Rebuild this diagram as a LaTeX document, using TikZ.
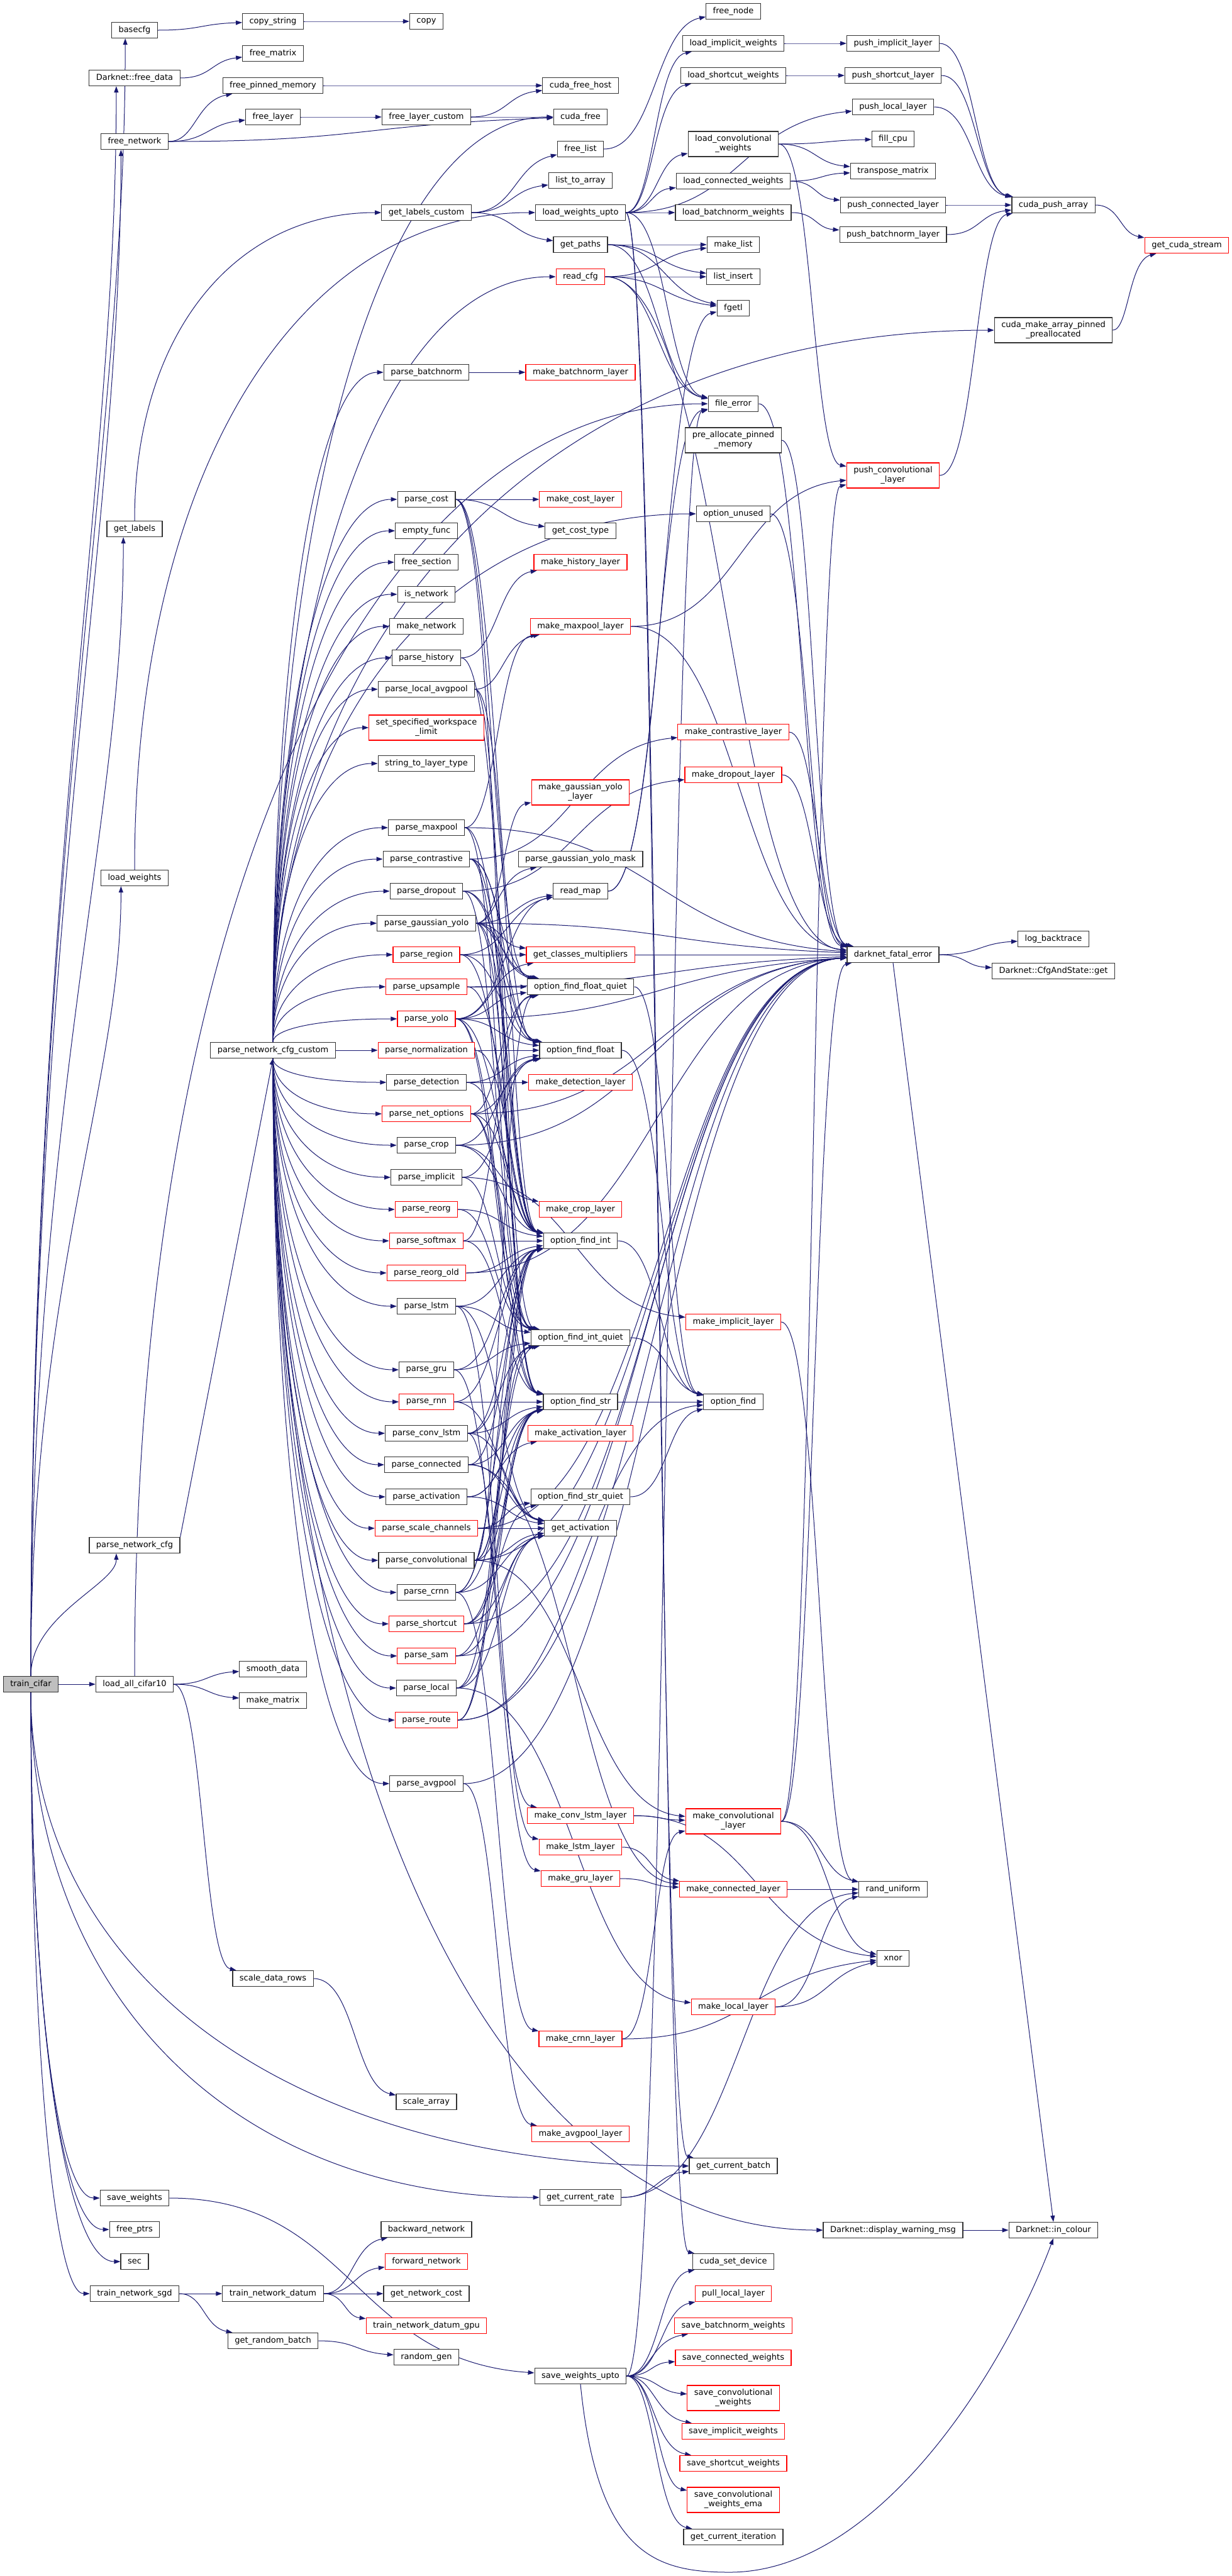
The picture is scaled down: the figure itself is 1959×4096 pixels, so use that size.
\documentclass[tikz,border=0pt]{standalone}
\usepackage{fontspec}
\setmainfont{DejaVu Sans}
\usetikzlibrary{arrows.meta,calc}
\pgfdeclarelayer{background}
\pgfsetlayers{background,main}
\definecolor{edgeblue}{HTML}{191970}
\tikzstyle{fn}=[draw=black!80,fill=white,line width=1.2pt,font=\fontsize{13}{15}\selectfont,minimum height=25pt,inner xsep=11pt,inner ysep=6pt,align=center]
\tikzstyle{fnred}=[fn,draw=red]
\tikzstyle{rootfn}=[fn,fill=black!25]
\tikzstyle{calledge}=[draw=edgeblue,line width=1pt,-{Triangle[length=10pt,width=7pt]}]
% curved call from east side, arriving at the target's left part
\newcommand{\callarc}[2]{\draw[calledge] let \p1=(#1.east), \p2=(#2.center), \p3=(#2.west), \n1={0.5*(\x3-\x1)}, \n2={max(-25,min(25,0.3*(\y1-\y2)))} in (\p1) .. controls (\x1+\n1,\y1) and (\x3-\n1,\y2+\n2) .. (#2);}
% fans leaving a node from its top or bottom
\newcommand{\fanup}[2]{\draw[calledge] let \p1=(#1.north), \p2=(#2.west) in (\p1) .. controls (\x1,{\y1+0.6*(\y2-(\y1))}) and ({\x1+0.4*(\x2-\x1)},\y2) .. (\p2);}
\newcommand{\fandown}[2]{\draw[calledge] let \p1=(#1.south), \p2=(#2.west) in (\p1) .. controls (\x1,{\y1+0.6*(\y2-(\y1))}) and ({\x1+0.4*(\x2-\x1)},\y2) .. (\p2);}
\newcommand{\fanbelow}[2]{\draw[calledge] let \p1=(#1.north), \p2=($(#2.south west)!0.3!(#2.south east)$) in (\p1) .. controls (\x1,{\y1+0.5*(\y2-(\y1))}) and (\x2,{\y2-0.25*(\y2-(\y1))}) .. (\p2);}

\begin{document}
\begin{tikzpicture}[x=1pt,y=-1pt]
\useasboundingbox (0,0) rectangle (1959,4096);

   \def\ca{49}
   \def\cb{214}
   \def\cc{434}
   \def\cd{678}
   \def\ce{923}
   \def\cf{1166}
   \def\cg{1420}
   \def\ch{1675}
   \def\ci{1887}

%column 1
   \node[rootfn] (tc) at (\ca,2678) {train\_cifar};

%column 2
    \foreach \pos/\name/\label in {{(\cb,48)/basecfg/basecfg}, {(\cb,124)/freedata/Darknet::free\_data}, {(\cb,225)/freenet/free\_network}, {(\cb,841)/getlabels/get\_labels}, {(\cb,1396)/loadw/load\_weights}, {(\cb,2457)/pnc/parse\_network\_cfg}, {(\cb,2678)/loadcifar/load\_all\_cifar10}, {(\cb,3495)/savew/save\_weights}, {(\cb,3545)/freeptrs/free\_ptrs}, {(\cb,3596)/sec/sec}, {(\cb,3647)/tnsgd/train\_network\_sgd}}
        \node[fn] (\name) at \pos {\label};

%column 3
    \foreach \pos/\name/\label in {{(\cc,34)/copystr/copy\_string}, {(\cc,85)/freematrix/free\_matrix}, {(\cc,136)/freepinned/free\_pinned\_memory}, {(\cc,186)/freelayer/free\_layer}, {(\cc,1670)/pncc/parse\_network\_cfg\_custom}, {(\cc,2654)/smooth/smooth\_data}, {(\cc,2704)/makematrix/make\_matrix}, {(\cc,3146)/scalerows/scale\_data\_rows}, {(\cc,3647)/tndatum/train\_network\_datum}, {(\cc,3722)/randbatch/get\_random\_batch}}
        \node[fn] (\name) at \pos {\label};

%column 4
    \foreach \pos/\name/\label in {{(\cd,34)/copy/copy}, {(\cd,186)/freelayercustom/free\_layer\_custom}, {(\cd,338)/getlabelscustom/get\_labels\_custom}, {(\cd,592)/pbatchnorm/parse\_batchnorm}, {(\cd,794)/pcost/parse\_cost}, {(\cd,844)/emptyfunc/empty\_func}, {(\cd,894)/freesection/free\_section}, {(\cd,945)/isnetwork/is\_network}, {(\cd,996)/makenetwork/make\_network}, {(\cd,1046)/phistory/parse\_history}, {(\cd,1096)/plocalavg/parse\_local\_avgpool}, {(\cd,1214)/strtype/string\_to\_layer\_type}, {(\cd,1316)/pmaxpool/parse\_maxpool}, {(\cd,1366)/pcontrastive/parse\_contrastive}, {(\cd,1417)/pdropout/parse\_dropout}, {(\cd,1468)/pgyolo/parse\_gaussian\_yolo}, {(\cd,1721)/pdetection/parse\_detection}, {(\cd,1821)/pcrop/parse\_crop}, {(\cd,1872)/pimplicit/parse\_implicit}, {(\cd,2077)/plstm/parse\_lstm}, {(\cd,2178)/pgru/parse\_gru}, {(\cd,2279)/pconvlstm/parse\_conv\_lstm}, {(\cd,2329)/pconnected/parse\_connected}, {(\cd,2380)/pactivation/parse\_activation}, {(\cd,2481)/pconv/parse\_convolutional}, {(\cd,2532)/pcrnn/parse\_crnn}, {(\cd,2684)/plocal/parse\_local}, {(\cd,2836)/pavgpool/parse\_avgpool}, {(\cd,3342)/scalearray/scale\_array}, {(\cd,3545)/backward/backward\_network}, {(\cd,3647)/netcost/get\_network\_cost}, {(\cd,3748)/randomgen/random\_gen}}
        \node[fn] (\name) at \pos {\label};
    \foreach \pos/\name/\label in {{(\cd,1157)/setws/{set\_specified\_workspace\\\_limit}}, {(\cd,1518)/pregion/parse\_region}, {(\cd,1569)/pupsample/parse\_upsample}, {(\cd,1620)/pyolo/parse\_yolo}, {(\cd,1670)/pnorm/parse\_normalization}, {(\cd,1771)/pnet/parse\_net\_options}, {(\cd,1923)/preorg/parse\_reorg}, {(\cd,1973)/psoftmax/parse\_softmax}, {(\cd,2024)/preorgold/parse\_reorg\_old}, {(\cd,2229)/prnn/parse\_rnn}, {(\cd,2430)/pscale/parse\_scale\_channels}, {(\cd,2582)/pshortcut/parse\_shortcut}, {(\cd,2633)/psam/parse\_sam}, {(\cd,2735)/proute/parse\_route}, {(\cd,3596)/forward/forward\_network}, {(\cd,3698)/tndgpu/train\_network\_datum\_gpu}}
        \node[fnred] (\name) at \pos {\label};

%column 5
    \foreach \pos/\name/\label in {{(\ce,136)/cudafreehost/cuda\_free\_host}, {(\ce,186)/cudafree/cuda\_free}, {(\ce,237)/freelist/free\_list}, {(\ce,287)/listtoarray/list\_to\_array}, {(\ce,338)/loadwupto/load\_weights\_upto}, {(\ce,389)/getpaths/get\_paths}, {(\ce,844)/costtype/get\_cost\_type}, {(\ce,1366)/gyolomask/parse\_gaussian\_yolo\_mask}, {(\ce,1417)/readmap/read\_map}, {(\ce,1569)/offquiet/option\_find\_float\_quiet}, {(\ce,1670)/off/option\_find\_float}, {(\ce,1973)/ofi/option\_find\_int}, {(\ce,2127)/ofiquiet/option\_find\_int\_quiet}, {(\ce,2229)/ofs/option\_find\_str}, {(\ce,2380)/ofsquiet/option\_find\_str\_quiet}, {(\ce,2430)/getact/get\_activation}, {(\ce,3494)/getrate/get\_current\_rate}, {(\ce,3778)/savewupto/save\_weights\_upto}}
        \node[fn] (\name) at \pos {\label};
    \foreach \pos/\name/\label in {{(\ce,440)/readcfg/read\_cfg}, {(\ce,592)/mkbatchnorm/make\_batchnorm\_layer}, {(\ce,794)/mkcost/make\_cost\_layer}, {(\ce,894)/mkhistory/make\_history\_layer}, {(\ce,996)/mkmaxpool/make\_maxpool\_layer}, {(\ce,1260)/mkgyolo/{make\_gaussian\_yolo\\\_layer}}, {(\ce,1518)/classmult/get\_classes\_multipliers}, {(\ce,1721)/mkdetection/make\_detection\_layer}, {(\ce,1923)/mkcrop/make\_crop\_layer}, {(\ce,2279)/mkactivation/make\_activation\_layer}, {(\ce,2887)/mkconvlstm/make\_conv\_lstm\_layer}, {(\ce,2937)/mklstm/make\_lstm\_layer}, {(\ce,2987)/mkgru/make\_gru\_layer}, {(\ce,3242)/mkcrnn/make\_crnn\_layer}, {(\ce,3393)/mkavgpool/make\_avgpool\_layer}}
        \node[fnred] (\name) at \pos {\label};

%column 6
    \foreach \pos/\name/\label in {{(\cf,18)/freenode/free\_node}, {(\cf,69)/loadimplicit/load\_implicit\_weights}, {(\cf,120)/loadshortcut/load\_shortcut\_weights}, {(\cf,229)/loadconv/{load\_convolutional\\\_weights}}, {(\cf,288)/loadconnected/load\_connected\_weights}, {(\cf,338)/loadbatchnorm/load\_batchnorm\_weights}, {(\cf,389)/makelist/make\_list}, {(\cf,440)/listinsert/list\_insert}, {(\cf,490)/fgetl/fgetl}, {(\cf,642)/fileerror/file\_error}, {(\cf,700)/prealloc/{pre\_allocate\_pinned\\\_memory}}, {(\cf,817)/optunused/option\_unused}, {(\cf,2229)/optfind/option\_find}, {(\cf,3444)/curbatch/get\_current\_batch}, {(\cf,3596)/setdevice/cuda\_set\_device}, {(\cf,4034)/curiter/get\_current\_iteration}}
        \node[fn] (\name) at \pos {\label};
    \foreach \pos/\name/\label in {{(\cf,1164)/mkcontrastive/make\_contrastive\_layer}, {(\cf,1232)/mkdropout/make\_dropout\_layer}, {(\cf,2102)/mkimplicit/make\_implicit\_layer}, {(\cf,2896)/mkconv/{make\_convolutional\\\_layer}}, {(\cf,3004)/mkconnected/make\_connected\_layer}, {(\cf,3191)/mklocal/make\_local\_layer}, {(\cf,3647)/pulllocal/pull\_local\_layer}, {(\cf,3698)/savebn/save\_batchnorm\_weights}, {(\cf,3749)/saveconn/save\_connected\_weights}, {(\cf,3813)/saveconv/{save\_convolutional\\\_weights}}, {(\cf,3866)/saveimpl/save\_implicit\_weights}, {(\cf,3917)/saveshort/save\_shortcut\_weights}, {(\cf,3975)/saveema/{save\_convolutional\\\_weights\_ema}}}
        \node[fnred] (\name) at \pos {\label};

%column 7
    \foreach \pos/\name/\label in {{(\cg,69)/pushimplicit/push\_implicit\_layer}, {(\cg,120)/pushshortcut/push\_shortcut\_layer}, {(\cg,170)/pushlocal/push\_local\_layer}, {(\cg,221)/fillcpu/fill\_cpu}, {(\cg,272)/transpose/transpose\_matrix}, {(\cg,326)/pushconnected/push\_connected\_layer}, {(\cg,373)/pushbatchnorm/push\_batchnorm\_layer}, {(\cg,1518)/fatal/darknet\_fatal\_error}, {(\cg,3004)/randuniform/rand\_uniform}, {(\cg,3114)/xnor/xnor}, {(\cg,3546)/warnmsg/Darknet::display\_warning\_msg}}
        \node[fn] (\name) at \pos {\label};
    \node[fnred] (pushconv) at (\cg,756) {push\_convolutional\\\_layer};

%column 8 and 9
    \foreach \pos/\name/\label in {{(\ch,326)/pusharray/cuda\_push\_array}, {(\ch,525)/pinnedpre/{cuda\_make\_array\_pinned\\\_preallocated}}, {(\ch,1493)/backtrace/log\_backtrace}, {(\ch,1544)/cfgget/Darknet::CfgAndState::get}, {(\ch,3546)/incolour/Darknet::in\_colour}}
        \node[fn] (\name) at \pos {\label};
    \node[fnred] (cudastream) at (\ci,390) {get\_cuda\_stream};

\begin{pgfonlayer}{background}
% Connect calls: train_cifar
    \foreach \dest in {basecfg, freedata, freenet, getlabels, loadw, pnc}
        \fanbelow{tc}{\dest};
    \foreach \dest in {curbatch, getrate, savew, freeptrs, sec, tnsgd}
        \fandown{tc}{\dest};
    \callarc{tc}{loadcifar};
    \fanup{getlabels}{getlabelscustom};
    \fanup{loadw}{loadwupto};
    \fanup{loadcifar}{fileerror};
    \draw[calledge] (pnc.north east) -- (pncc.south);

% parse_network_cfg_custom
    \foreach \dest in {cudafree, readcfg, pinnedpre, optunused, pbatchnorm, pcost, emptyfunc, freesection, isnetwork, makenetwork, phistory, plocalavg, setws, strtype, pmaxpool, pcontrastive, pdropout, pgyolo, pregion, pupsample, pyolo}
        \fanup{pncc}{\dest};
    \foreach \dest in {pdetection, pnet, pcrop, pimplicit, preorg, psoftmax, preorgold, plstm, pgru, prnn, pconvlstm, pconnected, pactivation, pscale, pconv, pcrnn, pshortcut, psam, plocal, proute, pavgpool, warnmsg}
        \fandown{pncc}{\dest};
    \callarc{pncc}{pnorm};

% top part
    \foreach \source/\dest in {basecfg/copystr, copystr/copy, freedata/freematrix, freenet/freepinned, freenet/freelayer, freenet/cudafree, freepinned/cudafreehost, freelayer/freelayercustom, freelayercustom/cudafreehost, freelayercustom/cudafree, getlabelscustom/freelist, getlabelscustom/listtoarray, getlabelscustom/getpaths, freelist/freenode, loadwupto/loadimplicit, loadwupto/loadshortcut, loadwupto/pushlocal, loadwupto/loadconv, loadwupto/loadconnected, loadwupto/loadbatchnorm, loadwupto/fileerror, loadwupto/setdevice, loadwupto/curbatch, loadimplicit/pushimplicit, loadshortcut/pushshortcut, loadconv/fillcpu, loadconv/transpose, loadconv/pushconv, loadconnected/transpose, loadconnected/pushconnected, loadbatchnorm/pushbatchnorm, pushimplicit/pusharray, pushshortcut/pusharray, pushlocal/pusharray, pushconnected/pusharray, pushbatchnorm/pusharray, pushconv/pusharray, pusharray/cudastream, pinnedpre/cudastream, getpaths/makelist, getpaths/listinsert, getpaths/fgetl, getpaths/fileerror, readcfg/makelist, readcfg/listinsert, readcfg/fgetl, readcfg/fileerror, readcfg/fatal}
        \callarc{\source}{\dest};

% parsers
    \foreach \source/\dest in {pbatchnorm/mkbatchnorm, pcost/mkcost, pcost/costtype, pcost/offquiet, pcost/off, pcost/ofs, phistory/mkhistory, phistory/ofi, plocalavg/mkmaxpool, plocalavg/ofi, plocalavg/ofiquiet, pmaxpool/mkmaxpool, pmaxpool/ofi, pmaxpool/ofiquiet, pmaxpool/fatal, pcontrastive/mkcontrastive, pcontrastive/ofi, pcontrastive/off, pcontrastive/offquiet, pcontrastive/ofs, pdropout/mkdropout, pdropout/off, pdropout/ofiquiet, pdropout/offquiet, pgyolo/mkgyolo, pgyolo/gyolomask, pgyolo/readmap, pgyolo/classmult, pgyolo/ofi, pgyolo/off, pgyolo/offquiet, pgyolo/ofs, pgyolo/fatal, pregion/readmap, pregion/classmult, pregion/ofi, pregion/off, pregion/fatal, pupsample/offquiet, pupsample/ofi, pupsample/fatal, pyolo/readmap, pyolo/classmult, pyolo/ofi, pyolo/off, pyolo/offquiet, pyolo/ofiquiet, pyolo/ofs, pyolo/fatal, pnorm/off, pnorm/ofi, pdetection/mkdetection, pdetection/ofi, pdetection/off, pnet/ofi, pnet/off, pnet/ofs, pnet/ofiquiet, pnet/offquiet, pnet/fatal, pcrop/mkcrop, pcrop/ofi, pcrop/off, pcrop/fatal, pimplicit/mkimplicit, pimplicit/ofiquiet, pimplicit/off, preorg/ofi, preorg/ofiquiet, psoftmax/ofi, psoftmax/ofs, psoftmax/offquiet, preorgold/ofi, preorgold/fatal}
        \callarc{\source}{\dest};
    \foreach \source/\dest in {plstm/mklstm, plstm/ofi, plstm/ofiquiet, plstm/getact, pgru/mkgru, pgru/ofi, pgru/ofiquiet, prnn/ofi, prnn/ofs, prnn/getact, pconvlstm/mkconvlstm, pconvlstm/ofi, pconvlstm/ofiquiet, pconvlstm/ofs, pconvlstm/getact, pconnected/mkconnected, pconnected/ofi, pconnected/ofs, pconnected/getact, pactivation/mkactivation, pactivation/ofs, pactivation/getact, pscale/ofsquiet, pscale/getact, pscale/fatal, pconv/mkconv, pconv/ofi, pconv/ofiquiet, pconv/offquiet, pconv/ofs, pconv/getact, pconv/fatal, pcrnn/mkcrnn, pcrnn/ofi, pcrnn/ofiquiet, pcrnn/ofs, pcrnn/getact, pshortcut/ofs, pshortcut/ofsquiet, pshortcut/getact, pshortcut/fatal, psam/ofs, psam/getact, psam/fatal, plocal/mklocal, plocal/ofi, plocal/ofs, plocal/getact, proute/optfind, proute/ofi, proute/ofiquiet, proute/fatal, pavgpool/mkavgpool, pavgpool/fatal}
        \callarc{\source}{\dest};

% options and layers
    \foreach \source/\dest in {ofi/optfind, ofiquiet/optfind, off/optfind, offquiet/optfind, ofs/optfind, ofsquiet/optfind, classmult/fatal, readmap/fgetl, readmap/fileerror, fileerror/fatal, prealloc/fatal, optunused/fatal, mkmaxpool/pushconv, mkmaxpool/fatal, mkcontrastive/fatal, mkdropout/fatal, mkimplicit/randuniform, mkconvlstm/mkconv, mkconvlstm/xnor, mklstm/mkconnected, mkgru/mkconnected, mkcrnn/mkconv, mkcrnn/xnor, mkconv/pushconv, mkconv/randuniform, mkconv/xnor, mkconv/fatal, mkconnected/randuniform, mklocal/randuniform, mklocal/xnor, fatal/backtrace, fatal/cfgget}
        \callarc{\source}{\dest};

% bottom part
    \foreach \source/\dest in {loadcifar/smooth, loadcifar/makematrix, loadcifar/scalerows, scalerows/scalearray, tnsgd/tndatum, tnsgd/randbatch, tndatum/backward, tndatum/forward, tndatum/netcost, tndatum/tndgpu, randbatch/randomgen, savew/savewupto, getrate/curbatch, getrate/randuniform, savewupto/setdevice, savewupto/pulllocal, savewupto/savebn, savewupto/saveconn, savewupto/saveconv, savewupto/saveimpl, savewupto/saveshort, savewupto/saveema, savewupto/curiter, savewupto/fileerror, warnmsg/incolour}
        \callarc{\source}{\dest};
    \draw[calledge] (fatal.south) -- (incolour.north);
    \draw[calledge] (savewupto.south) .. controls (950,4060) and (1040,4090) .. (1160,4090) .. controls (1400,4090) and (1600,3760) .. (incolour.south);
\end{pgfonlayer}

\end{tikzpicture}
\end{document}
